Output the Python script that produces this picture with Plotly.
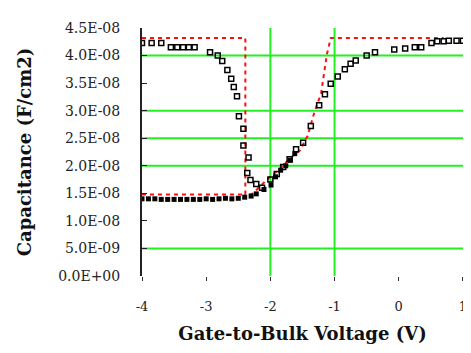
import plotly.graph_objects as go

# gate-to-bulk voltage (V) and capacitance (F/cm2)
sweep_down_v = [-4.0, -3.85, -3.7, -3.55, -3.45, -3.36, -3.27, -3.18, -2.94, -2.82, -2.75,
                -2.67, -2.61, -2.57, -2.52, -2.49, -2.42, -2.42, -2.36, -2.34, -2.31, -2.22,
                -2.13, -2.0, -1.9, -1.8, -1.7, -1.6, -1.49, -1.37, -1.24, -1.15, -1.06,
                -0.95, -0.84, -0.75, -0.67, -0.5, -0.37, -0.07, 0.1, 0.25, 0.35, 0.51,
                0.6, 0.7, 0.78, 0.9, 1.0]
sweep_down_c = [4.23, 4.23, 4.23, 4.15, 4.15, 4.15, 4.15, 4.15, 4.06, 4.0, 3.9,
                3.74, 3.58, 3.43, 3.26, 2.9, 2.67, 2.37, 1.87, 2.15, 1.74, 1.67,
                1.6, 1.75, 1.85, 1.98, 2.12, 2.3, 2.42, 2.72, 3.1, 3.3, 3.49,
                3.62, 3.75, 3.85, 3.91, 4.0, 4.06, 4.11, 4.13, 4.15, 4.15, 4.23,
                4.26, 4.26, 4.27, 4.27, 4.27]

sweep_up_v = [-4.0, -3.9, -3.8, -3.7, -3.6, -3.5, -3.4, -3.3, -3.2, -3.1, -3.0, -2.9,
              -2.8, -2.7, -2.6, -2.5, -2.4, -2.3, -2.22, -2.1, -1.99, -1.92, -1.84,
              -1.76, -1.69, -1.62]
sweep_up_c = [1.40, 1.40, 1.40, 1.39, 1.39, 1.39, 1.39, 1.39, 1.39, 1.39, 1.40, 1.39,
              1.40, 1.41, 1.40, 1.41, 1.43, 1.45, 1.49, 1.57, 1.65, 1.80, 1.92,
              2.0, 2.10, 2.22]

ideal_hi_v = [-4.0, -2.39, -2.39, -2.3, -2.21, -2.06, -1.84, -1.69, -1.54, -1.42,
              -1.31, -1.21, -1.12, -1.06, 0.7]
ideal_hi_c = [4.32, 4.32, 1.48, 1.48, 1.57, 1.74, 1.96, 2.14, 2.28, 2.54,
              2.99, 3.31, 4.02, 4.32, 4.32]
ideal_lo_v = [-4.0, -2.39]
ideal_lo_c = [1.48, 1.48]

y_ticks = [0, 0.5, 1.0, 1.5, 2.0, 2.5, 3.0, 3.5, 4.0, 4.5]
y_labels = ["0.0E+00", "5.0E-09", "1.0E-08", "1.5E-08", "2.0E-08",
            "2.5E-08", "3.0E-08", "3.5E-08", "4.0E-08", "4.5E-08"]
x_ticks = [-4, -3, -2, -1, 0, 1]
x_labels = ["-4", "-3", "-2", "-1", "0", "1"]
grid_y = [0.5, 2.0, 2.5, 3.0, 4.0]
grid_x = [-2, -1]

SCALE = 1e-8
GREEN = "#22f022"
SERIF = "DejaVu Serif"

fig = go.Figure()
for gy in grid_y:
    fig.add_shape(type="line", xref="x domain", x0=0, x1=1, yref="y", y0=gy * SCALE, y1=gy * SCALE,
                  line={"color": GREEN, "width": 2}, layer="below")
for gx in grid_x:
    fig.add_shape(type="line", xref="x", x0=gx, x1=gx, yref="y domain", y0=0, y1=1,
                  line={"color": GREEN, "width": 2}, layer="below")

dash = {"color": "#ff1010", "width": 2, "dash": "4px,4px"}
fig.add_scatter(x=ideal_hi_v, y=[c * SCALE for c in ideal_hi_c], mode="lines", line=dash)
fig.add_scatter(x=ideal_lo_v, y=[c * SCALE for c in ideal_lo_c], mode="lines", line=dash)
fig.add_scatter(x=sweep_down_v, y=[c * SCALE for c in sweep_down_c], mode="markers",
                marker={"symbol": "square-open", "size": 5, "color": "black", "line": {"width": 1.5}})
fig.add_scatter(x=sweep_up_v, y=[c * SCALE for c in sweep_up_c], mode="markers",
                marker={"symbol": "square", "size": 5, "color": "black"})

fig.update_xaxes(range=[-4, 1.001], tickvals=x_ticks, ticktext=x_labels, showgrid=False, zeroline=False,
                 showline=False, ticks="outside", ticklen=4, tickcolor="#333", ticklabelstandoff=14,
                 ticklabeloverflow="allow",
                 tickfont={"family": SERIF, "size": 13, "color": "#222"},
                 title={"text": "<b>Gate-to-Bulk Voltage (V)</b>", "standoff": 14,
                        "font": {"family": SERIF, "size": 18, "color": "#111"}})
fig.update_yaxes(range=[0, 4.5 * SCALE], tickvals=[t * SCALE for t in y_ticks], ticktext=y_labels,
                 showgrid=False, zeroline=False, showline=True, linecolor="#222", linewidth=2,
                 mirror=True, ticks="inside", ticklen=5, tickcolor="#222", ticklabelstandoff=17,
                 tickfont={"family": SERIF, "size": 14, "color": "#222"},
                 title={"text": "<b>Capacitance (F/cm2)</b>", "standoff": 22,
                        "font": {"family": SERIF, "size": 18, "color": "#111"}})
fig.update_layout(width=471, height=353, showlegend=False, plot_bgcolor="white",
                  paper_bgcolor="white", margin={"l": 134, "r": 12, "t": 15, "b": 85})
fig.write_html("out.html")
